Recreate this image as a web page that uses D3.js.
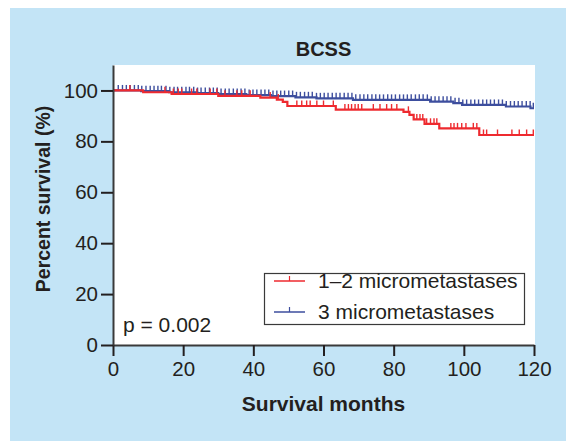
<!DOCTYPE html>
<html>
<head>
<meta charset="utf-8">
<script src="https://cdn.jsdelivr.net/npm/d3@7"></script>
<style>
    body { margin: 0; background: #ffffff; }
    svg text { font-family: "Liberation Sans", Arial, Helvetica, sans-serif; fill: #231f20; }
</style>
</head>
<body>
<div id="chart"></div>
<script>
// Kaplan-Meier steps: [month, percent surviving]
const redSteps = [
    [0, 100], [8.6, 99.3], [16.7, 98.6], [30, 97.9], [42, 97.2], [46.7, 96.4],
    [48.4, 95.5], [49.7, 93.9], [63.5, 92.5], [82.8, 91.6], [84.5, 90.4],
    [85.7, 88.6], [88.8, 86.9], [93, 85.1], [104.4, 82.5],
];
const blueSteps = [
    [0, 100], [8, 99.7], [16, 99.3], [24, 99.0], [30, 98.6], [38, 98.2],
    [45, 97.8], [52, 97.3], [58, 96.9], [68.4, 96.3], [90.4, 95.6],
    [97, 95.0], [99.5, 94.3], [112, 93.7], [119, 93.0],
];

// censored observations (months)
const redCensored = [
    4.8, 14.8, 17.2, 18.6, 19.6, 22.4, 23.9, 27.7, 29.6, 31.9, 35.3, 36.7, 39.1,
    44.8, 47.1, 52.4, 53.8, 55.2, 56.2, 58.1, 60.0, 62.8, 66.1, 67.1, 68.0, 69.0,
    69.9, 70.9, 74.2, 76.1, 78.0, 79.4, 80.9, 84.2, 86.6, 87.5, 88.3, 89.4, 90.5,
    91.5, 92.3, 96.3, 97.2, 98.2, 99.4, 100.6, 102.7, 103.7, 105.6, 106.5, 109.6,
    113.7, 115.8, 117.9, 119.8,
];
const blueCensored = [
    1.5, 2.7, 3.8, 4.9, 6.1, 7.2, 8.2, 9.4, 10.6, 11.7, 12.8, 13.8, 15.1, 16.2,
    17.4, 18.4, 19.6, 20.8, 21.8, 23.0, 24.1, 25.1, 26.3, 27.5, 28.6, 29.7, 30.8,
    32.0, 33.1, 34.3, 35.4, 36.5, 37.6, 38.8, 39.9, 41.0, 42.2, 43.3, 44.4, 45.6,
    46.7, 47.8, 48.9, 50.1, 51.2, 52.3, 53.4, 54.6, 55.7, 56.8, 58.0, 59.1, 60.2,
    61.3, 62.5, 63.6, 64.7, 65.9, 67.0, 68.1, 69.2, 70.4, 71.5, 72.6, 73.8, 74.9,
    76.0, 77.1, 78.3, 79.4, 80.5, 81.7, 82.8, 83.9, 85.0, 86.2, 87.3, 88.4, 89.6,
    90.7, 91.8, 92.9, 94.1, 95.2, 96.3, 97.5, 98.6, 99.7, 100.8, 102.0, 103.1,
    104.2, 105.4, 106.5, 107.6, 108.7, 109.9, 111.0, 112.1, 113.3, 114.4, 115.5,
    116.6, 117.8, 118.9, 119.8,
];

const xTicks = [0, 20, 40, 60, 80, 100, 120];
const yTicks = [0, 20, 40, 60, 80, 100];
const legendLabels = ['1\u20132 micrometastases', '3 micrometastases'];

const RED = '#ee2a2f';
const BLUE = '#3d4e9e';

const width = 566;
const height = 441;
const margin = { top: 65, right: 32, bottom: 96, left: 113 };
const innerW = width - margin.left - margin.right;
const innerH = height - margin.top - margin.bottom;

const svg = d3.select('#chart')
    .append('svg')
    .attr('width', width)
    .attr('height', height);

// panel background
svg.append('rect')
    .attr('x', 10)
    .attr('y', 8)
    .attr('width', width - 10)
    .attr('height', height - 8)
    .attr('fill', '#c3e4f6');

const g = svg.append('g')
    .attr('transform', `translate(${margin.left},${margin.top})`);

const x = d3.scaleLinear().domain([0, 120]).range([0, 421]);
const y = d3.scaleLinear().domain([0, 110]).range([innerH, 0]);

g.append('rect')
    .attr('width', innerW + 1)
    .attr('height', innerH)
    .attr('fill', '#ffffff');

// title
svg.append('text')
    .attr('x', margin.left + x(60))
    .attr('y', 56)
    .attr('text-anchor', 'middle')
    .style('font-size', '20px')
    .style('font-weight', 'bold')
    .text('BCSS');

/**
 * Survival value at a given time (step function)
 */
function survivalAt(steps, t) {
    const i = d3.bisector(d => d[0]).right(steps, t) - 1;
    return steps[Math.max(0, i)][1];
}

const line = d3.line()
    .x(d => x(d[0]))
    .y(d => y(d[1]))
    .curve(d3.curveStepAfter);

function drawCurve(steps, censored, color) {
    const pts = steps.concat([[120, steps[steps.length - 1][1]]]);
    g.append('path')
        .datum(pts)
        .attr('fill', 'none')
        .attr('stroke', color)
        .attr('stroke-width', 2.2)
        .attr('d', line);

    g.append('g')
        .selectAll('line')
        .data(censored)
        .join('line')
        .attr('x1', d => x(d))
        .attr('x2', d => x(d))
        .attr('y1', d => y(survivalAt(steps, d)))
        .attr('y2', d => y(survivalAt(steps, d)) - 5.5)
        .attr('stroke', color)
        .attr('stroke-width', 1.4);
}

drawCurve(blueSteps, blueCensored, BLUE);
drawCurve(redSteps, redCensored, RED);

// axes
const xAxis = g.append('g')
    .attr('transform', `translate(0,${innerH})`)
    .call(d3.axisBottom(x).tickValues(xTicks).tickSize(11).tickPadding(5).tickSizeOuter(0));

const yAxis = g.append('g')
    .call(d3.axisLeft(y).tickValues(yTicks).tickSize(12).tickPadding(3).tickSizeOuter(0));

[xAxis, yAxis].forEach(a => {
    a.select('.domain').attr('stroke', '#3a3a3a').attr('stroke-width', 2);
    a.selectAll('.tick line').attr('stroke', '#231f20').attr('stroke-width', 2);
    a.selectAll('.tick text')
        .style('font-size', '20.5px')
        .attr('fill', '#231f20');
});

// axis labels
svg.append('text')
    .attr('x', margin.left + x(60))
    .attr('y', 411)
    .attr('text-anchor', 'middle')
    .style('font-size', '21px')
    .style('font-weight', 'bold')
    .text('Survival months');

svg.append('text')
    .attr('transform', 'rotate(-90)')
    .attr('x', -199)
    .attr('y', 50)
    .attr('text-anchor', 'middle')
    .style('font-size', '19.5px')
    .style('font-weight', 'bold')
    .text('Percent survival (%)');

// p-value
svg.append('text')
    .attr('x', 123)
    .attr('y', 332)
    .style('font-size', '21px')
    .text('p = 0.002');

// legend
const legend = svg.append('g');
legend.append('rect')
    .attr('x', 264.5)
    .attr('y', 273.5)
    .attr('width', 260)
    .attr('height', 51)
    .attr('fill', '#ffffff')
    .attr('stroke', '#3a3a3a')
    .attr('stroke-width', 1.2);

const legendColors = [RED, BLUE];
const legendRows = legend.selectAll('g.row')
    .data(legendLabels)
    .join('g')
    .attr('class', 'row')
    .attr('transform', (d, i) => `translate(0,${281 + i * 31})`);

legendRows.append('line')
    .attr('x1', 274).attr('x2', 305)
    .attr('stroke', (d, i) => legendColors[i])
    .attr('stroke-width', 1.5);

legendRows.append('line')
    .attr('x1', 289.5).attr('x2', 289.5)
    .attr('y1', 0).attr('y2', -5)
    .attr('stroke', (d, i) => legendColors[i])
    .attr('stroke-width', 1.2);

legendRows.append('text')
    .attr('x', 318)
    .attr('y', 7)
    .style('font-size', '21px')
    .text(d => d);
</script>
</body>
</html>
